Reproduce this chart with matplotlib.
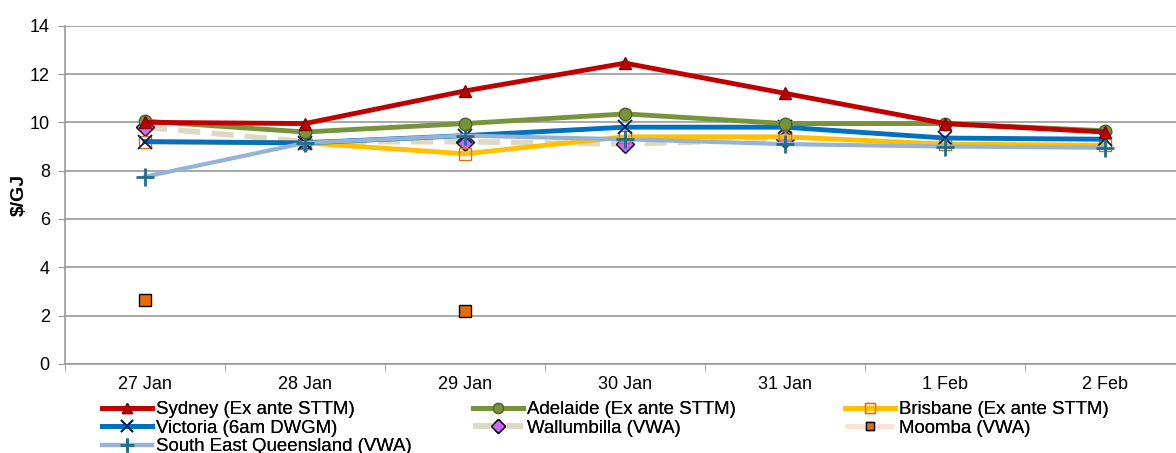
import numpy as np
import matplotlib.pyplot as plt

plt.rcParams['font.family'] = ['Liberation Sans', 'DejaVu Sans']

# Precios diarios de gas por mercado
dias = ["27 Jan", "28 Jan", "29 Jan", "30 Jan", "31 Jan", "1 Feb", "2 Feb"]
sydney = [10.0, 9.95, 11.3, 12.45, 11.2, 9.95, 9.6]
adelaide = [10.05, 9.6, 9.95, 10.35, 9.95, 9.95, 9.65]
brisbane = [9.2, 9.15, 8.7, 9.4, 9.4, 9.1, 9.05]
victoria = [9.2, 9.15, 9.45, 9.8, 9.8, 9.35, 9.3]
wallumbilla = [9.8, 9.2, 9.2, 9.1, 9.3, np.nan, np.nan]
moomba = [2.65, np.nan, 2.2, np.nan, np.nan, np.nan, np.nan]
seq = [7.75, 9.15, 9.45, 9.3, 9.1, 9.0, 8.95]

x = np.arange(len(dias))

fig = plt.figure(figsize=(11.76, 4.53), dpi=100)
ax = fig.add_axes([0.0553, 0.1965, 0.9524, 0.7468])

ax.plot(x, moomba, color="#fbe3d3", linestyle=(0, (4, 2)), linewidth=3.5,
        marker="s", markersize=8, markerfacecolor="#e46c0a",
        markeredgecolor="black", markeredgewidth=1, label="Moomba (VWA)", zorder=2)
ax.plot(x, wallumbilla, color="#ddd9c3", linestyle=(0, (4, 2)), linewidth=4,
        marker="D", markersize=9, markerfacecolor="#cc66ff",
        markeredgecolor="black", markeredgewidth=1, label="Wallumbilla (VWA)", zorder=3)
ax.plot(x, brisbane, color="#ffc000", linewidth=3.5,
        marker="s", markersize=9, markerfacecolor="none",
        markeredgecolor="#e46c0a", markeredgewidth=1, label="Brisbane (Ex ante STTM)", zorder=4)
ax.plot(x, victoria, color="#0070c0", linewidth=3.5,
        marker="x", markersize=10, markeredgecolor="#002060", markeredgewidth=1.3,
        label="Victoria (6am DWGM)", zorder=5)
ax.plot(x, seq, color="#95b3d7", linewidth=3,
        marker="+", markersize=13, markeredgecolor="#1f6e8c", markeredgewidth=2,
        label="South East Queensland (VWA)", zorder=6)
ax.plot(x, adelaide, color="#77933c", linewidth=3.5,
        marker="o", markersize=9, markerfacecolor="#77933c",
        markeredgecolor="#4f6228", markeredgewidth=1, label="Adelaide (Ex ante STTM)", zorder=7)
ax.plot(x, sydney, color="#c00000", linewidth=3.5,
        marker="^", markersize=9, markerfacecolor="#c00000",
        markeredgecolor="#7f0000", markeredgewidth=1, label="Sydney (Ex ante STTM)", zorder=8)

ax.set_xlim(-0.5, len(dias) - 0.5)
ax.set_ylim(0, 14)
ax.set_yticks(range(0, 15, 2))
ax.set_xticks(x)
ax.set_xticklabels(dias)
ax.set_xticks(np.arange(-0.5, len(dias), 1), minor=True)
ax.tick_params(axis="x", which="major", length=0, labelsize=13, pad=9)
ax.tick_params(axis="x", which="minor", length=5, color="#999999")
ax.tick_params(axis="y", length=5, color="#999999", labelsize=13, pad=6)
ax.set_ylabel("$/GJ", fontsize=14, fontweight="bold")
ax.yaxis.set_label_coords(-0.033, 0.5)

ax.grid(axis="y", color="#999999", linewidth=1.2)
ax.set_axisbelow(True)
for lado in ["top", "right"]:
    ax.spines[lado].set_visible(False)
for lado in ["left", "bottom"]:
    ax.spines[lado].set_color("#999999")
    ax.spines[lado].set_linewidth(1.2)

# leyenda en tres columnas, cada una como leyenda aparte
handles, labels = ax.get_legend_handles_labels()
mapa = dict(zip(labels, handles))
columnas = [
    ["Sydney (Ex ante STTM)", "Victoria (6am DWGM)", "South East Queensland (VWA)"],
    ["Adelaide (Ex ante STTM)", "Wallumbilla (VWA)"],
    ["Brisbane (Ex ante STTM)", "Moomba (VWA)"],
]
x_col = [102 / 1176, 473 / 1176, 845 / 1176]
for col, xc in zip(columnas, x_col):
    leg = fig.legend([mapa[k] for k in col], col, loc="upper left",
                     bbox_to_anchor=(xc, 0.114), frameon=False,
                     fontsize=13.4, handlelength=2.7, handletextpad=0.2,
                     labelspacing=0.07, borderpad=0, borderaxespad=0,
                     markerscale=0.8)
    fig.add_artist(leg)

plt.savefig("out.png", dpi=100)
